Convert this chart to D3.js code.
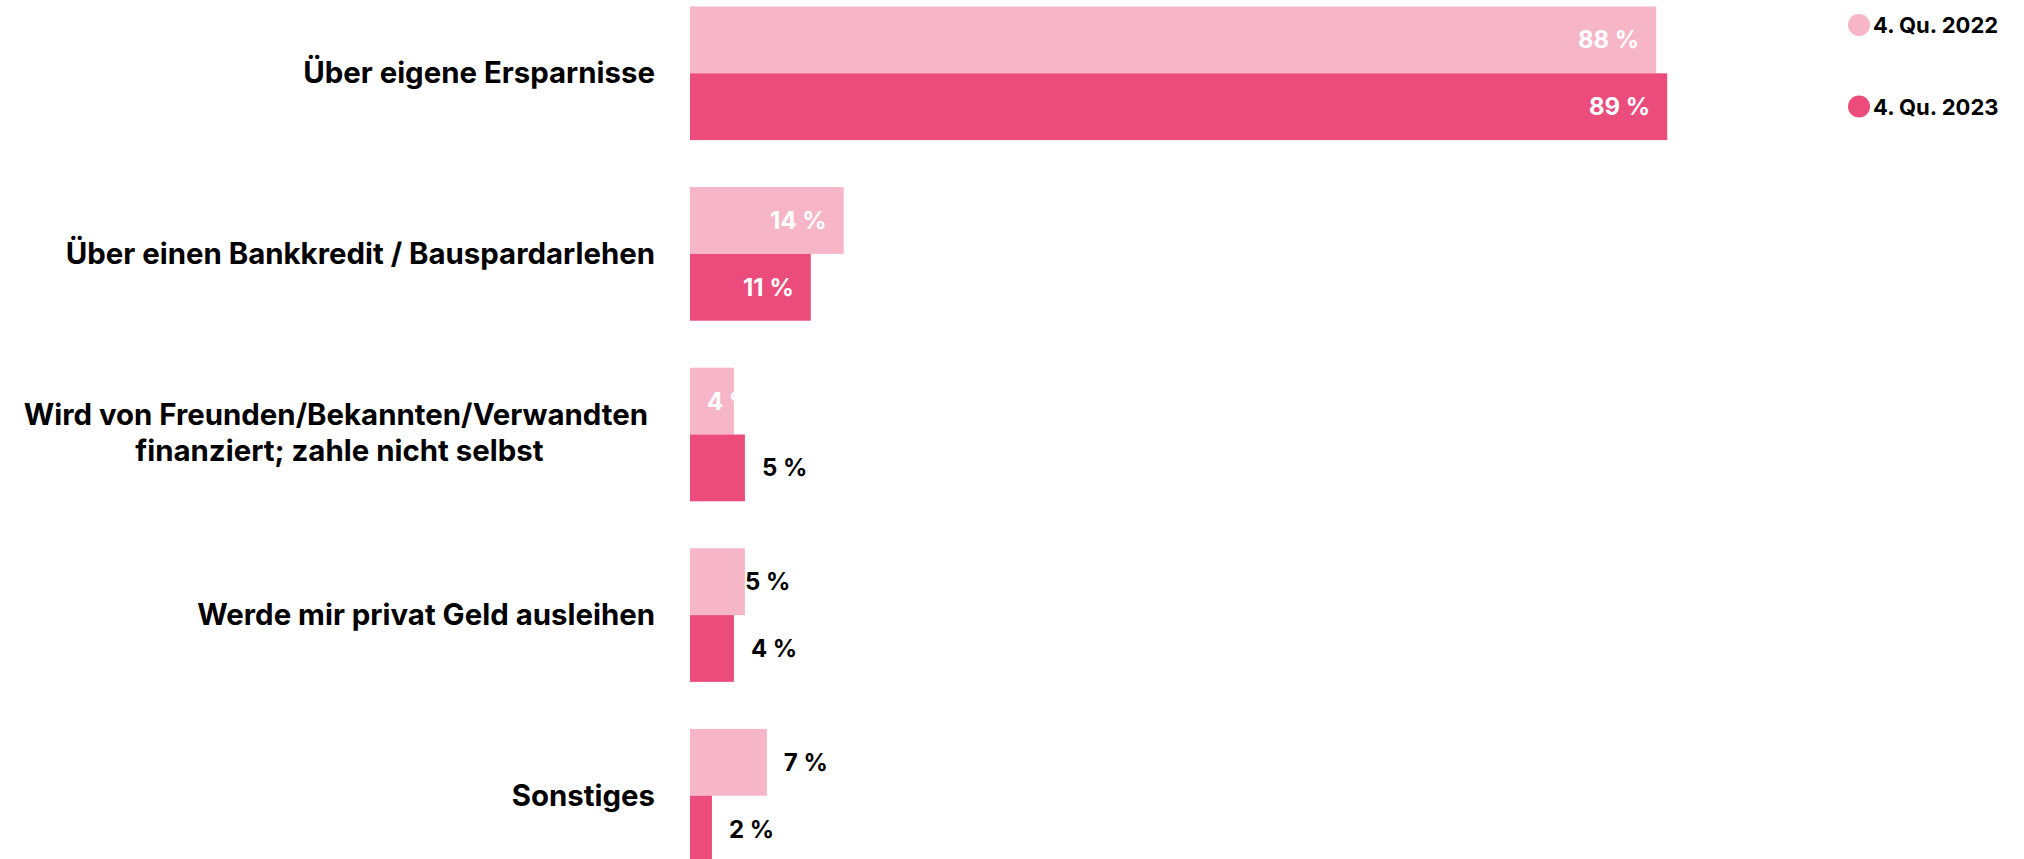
<html>
<head>
<meta charset="utf-8">
<script src="https://cdn.jsdelivr.net/npm/d3@7/dist/d3.min.js"></script>
<style>
	body { margin: 0; background: #fff; }
	text { font-family: Inter, "Noto Sans", sans-serif; font-weight: 700; }
</style>
</head>
<body>
<div id="chart"></div>
<script>
	// categories, one entry per line of the label
	var categories = [
		["Über eigene Ersparnisse"],
		["Über einen Bankkredit / Bauspardarlehen"],
		["Wird von Freunden/Bekannten/Verwandten ", "finanziert; zahle nicht selbst"],
		["Werde mir privat Geld ausleihen"],
		["Sonstiges"]
	];
	var seriesNames = ["4. Qu. 2022", "4. Qu. 2023"];
	var values2022 = [88, 14, 4, 5, 7];
	var values2023 = [89, 11, 5, 4, 2];
	// where the value label goes
	var labels2022 = ["inside", "inside", "inside", "edge", "outside"];
	var labels2023 = ["inside", "inside", "outside", "outside", "outside"];
	var colors = ["#f7b6c8", "#ec4c7b"];

	var width = 2024, height = 859;
	var svg = d3.select("#chart").append("svg")
		.attr("width", width)
		.attr("height", height);

	var step = 180.6, pad = 47 / step;
	var x = d3.scaleLinear().domain([0, 100]).range([690, 1788]);
	var y = d3.scaleBand()
		.domain(d3.range(categories.length))
		.range([6.5, 6.5 + step * (categories.length - pad)])
		.paddingInner(pad)
		.paddingOuter(0);
	var ySub = d3.scaleBand().domain([0, 1]).range([0, y.bandwidth()]);

	var series = [
		{ name: seriesNames[0], values: values2022, labels: labels2022, color: colors[0] },
		{ name: seriesNames[1], values: values2023, labels: labels2023, color: colors[1] }
	];

	var groups = svg.selectAll("g.group")
		.data(categories)
		.enter().append("g")
		.attr("class", "group")
		.attr("transform", function(d, i) { return "translate(0," + y(i) + ")"; });

	// category labels
	groups.each(function(lines, i) {
		var g = d3.select(this);
		var cy = y.bandwidth() / 2;
		var lh = 36;
		var t = g.append("text")
			.attr("font-size", 29.4)
			.attr("fill", "#000")
			.attr("xml:space", "preserve");
		lines.forEach(function(line, j) {
			var off = lines.length == 1 ? 10 : 9;
			t.append("tspan")
				.attr("y", cy + off + (j - (lines.length - 1) / 2) * lh)
				.text(line);
		});
		if(lines.length == 1) {
			t.attr("text-anchor", "end").selectAll("tspan").attr("x", 655);
		} else {
			var maxW = 0;
			t.selectAll("tspan").each(function() {
				maxW = Math.max(maxW, this.getComputedTextLength());
			});
			t.attr("text-anchor", "middle").selectAll("tspan").attr("x", 655 - maxW / 2);
		}
	});

	// bars + value labels
	series.forEach(function(s, si) {
		groups.append("rect")
			.attr("x", x(0))
			.attr("y", ySub(si))
			.attr("width", function(d, i) { return x(s.values[i]) - x(0); })
			.attr("height", ySub.bandwidth())
			.attr("fill", s.color);

		groups.append("text")
			.attr("font-size", 24)
			.attr("y", ySub(si) + ySub.bandwidth() / 2 + 8.5)
			.attr("xml:space", "preserve")
			.text(function(d, i) { return s.values[i] + " %"; })
			.each(function(d, i) {
				var t = d3.select(this);
				var end = x(s.values[i]);
				var mode = s.labels[i];
				var w = this.getComputedTextLength();
				if(mode == "inside") {
					t.attr("fill", "#fff");
					if(end - x(0) > w + 34) {
						t.attr("text-anchor", "end").attr("x", end - 17);
					} else {
						t.attr("text-anchor", "start").attr("x", x(0) + 17);
					}
				} else if(mode == "edge") {
					t.attr("fill", "#000").attr("text-anchor", "start").attr("x", end);
				} else {
					t.attr("fill", "#000").attr("text-anchor", "start").attr("x", end + 17);
				}
			});
	});

	// legend
	var legend = svg.selectAll("g.legend")
		.data(series)
		.enter().append("g")
		.attr("class", "legend")
		.attr("transform", function(d, i) { return "translate(1859," + (25 + i * 81.5) + ")"; });
	legend.append("circle")
		.attr("r", 11)
		.attr("fill", function(d) { return d.color; });
	legend.append("text")
		.attr("x", 14)
		.attr("y", 8)
		.attr("font-size", 22)
		.attr("fill", "#000")
		.text(function(d) { return d.name; });
</script>
</body>
</html>
